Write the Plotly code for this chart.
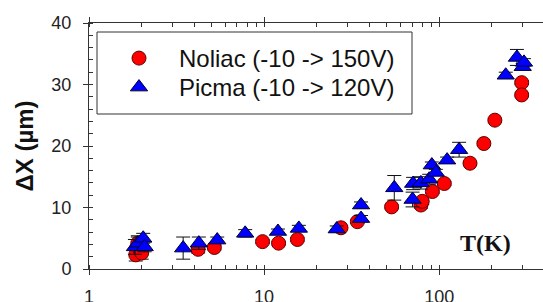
import plotly.graph_objects as go

# Noliac (-10 -> 150V)
noliac_T = [1.85, 1.9, 1.95, 2.0, 4.2, 5.2, 9.8, 12.1, 15.5, 27.5, 34.1, 53.5, 78.7, 80, 91.5, 107, 150, 180, 208, 296, 296]
noliac_dx = [2.3, 4.2, 3.2, 2.6, 3.2, 3.5, 4.45, 4.2, 4.8, 6.7, 7.7, 10.1, 10.4, 11.0, 12.6, 13.9, 17.2, 20.4, 24.2, 30.3, 28.3]
noliac_err = [1.0, 1.2, 1.0, 1.0, 0.6, 0.4, 0.3, 0.3, 0.3, 0.3, 0.3, 0.3, 0.5, 0.5, 0.3, 0.3, 0.3, 0.3, 0.3, 0.3, 0.3]

# Picma (-10 -> 120V)
picma_T = [1.83, 1.9, 2.04, 2.08, 3.45, 4.24, 5.4, 7.8, 12, 15.8, 26, 35.8, 35.8, 55.4, 70.5, 71, 78.6, 87.7, 90.8, 95.7, 111, 130, 240, 278, 300, 305]
picma_dx = [3.6, 4.2, 5.0, 3.6, 3.4, 4.2, 4.7, 5.8, 6.1, 6.6, 6.5, 8.2, 10.4, 13.2, 11.3, 13.9, 14.0, 14.6, 16.9, 15.7, 17.7, 19.4, 31.5, 34.4, 32.9, 33.6]
picma_err = [1.2, 1.0, 0.8, 0.8, 1.8, 1.0, 0.5, 0.6, 0.4, 0.5, 0.5, 0.5, 0.5, 2.0, 1.2, 1.0, 1.0, 0.8, 0.5, 0.5, 0.5, 1.2, 0.5, 1.3, 0.5, 0.6]

x_tickvals = [1, 10, 100]
x_ticktext = ["1", "10", "100"]
y_tickvals = [0, 10, 20, 30, 40]

W, H = 543, 302
ML, MR, MT, MB = 89, 0, 23, 33
pw, ph = W - ML - MR, H - MT - MB

def px2paper(x, y):
    return (x - ML) / pw, (H - MB - y) / ph

fig = go.Figure()
fig.add_trace(go.Scatter(
    x=noliac_T, y=noliac_dx, mode="markers", name="Noliac (-10 -> 150V)",
    marker=dict(symbol="circle", size=14, color="#FF0000", line=dict(color="#600000", width=1)),
    error_y=dict(type="data", array=noliac_err, color="#111", thickness=1, width=7),
    legend="legend",
))
fig.add_trace(go.Scatter(
    x=picma_T, y=picma_dx, mode="markers", name="Picma (-10 -> 120V)",
    marker=dict(symbol="triangle-up", size=15, color="#0000FF", line=dict(color="#000030", width=1)),
    error_y=dict(type="data", array=picma_err, color="#111", thickness=1, width=7),
    legend="legend2",
))

bx0, by1 = px2paper(97, 32)
bx1, by0 = px2paper(412, 114)
fig.add_shape(type="rect", xref="paper", yref="paper", x0=bx0, x1=bx1, y0=by0, y1=by1,
              line=dict(color="#333", width=1), fillcolor="rgba(0,0,0,0)")

lx, ly = px2paper(99, 36)
lx2, ly2 = px2paper(99, 65)
tx, ty = px2paper(485, 243)
fig.add_annotation(text="<b>T(K)</b>", x=tx, y=ty, xref="paper", yref="paper",
                   xanchor="center", yanchor="middle",
                   showarrow=False, font=dict(family="Liberation Serif", size=24, color="#111"))

leg_common = dict(xanchor="left", yanchor="top", bgcolor="rgba(0,0,0,0)",
                  borderwidth=0, font=dict(size=24, color="#111"), itemwidth=70)

fig.update_layout(
    width=W, height=H,
    margin=dict(l=ML, r=MR, t=MT, b=MB, autoexpand=False),
    paper_bgcolor="white", plot_bgcolor="white",
    font=dict(family="Liberation Sans, Arial", color="#222"),
    showlegend=True,
    legend=dict(x=lx, y=ly, **leg_common),
    legend2=dict(x=lx2, y=ly2, **leg_common),
    xaxis=dict(type="log", range=[0, 2.593], showgrid=False, zeroline=False,
               showline=True, linecolor="#333", linewidth=1, mirror="ticks",
               ticks="outside", ticklen=5, tickcolor="#333",
               tickvals=x_tickvals, ticktext=x_ticktext, tickfont=dict(size=18),
               ticklabelstandoff=6,
               minor=dict(ticks="inside", ticklen=4, tickcolor="#333", dtick="D1", showgrid=False)),
    yaxis=dict(range=[0, 40], showgrid=False, zeroline=False,
               showline=True, linecolor="#333", linewidth=1,
               ticks="outside", ticklen=5, tickcolor="#333",
               tickvals=y_tickvals, tickfont=dict(size=18), ticklabelstandoff=8,
               minor=dict(ticks="inside", ticklen=4, tickcolor="#333", dtick=2, showgrid=False),
               title=dict(text="<b>ΔX (µm)</b>", font=dict(size=24, color="#111"), standoff=10)),
)

fig.write_html("out.html", config={"displayModeBar": False},
               post_script="document.body.style.margin='0px';document.body.style.overflow='hidden';")
